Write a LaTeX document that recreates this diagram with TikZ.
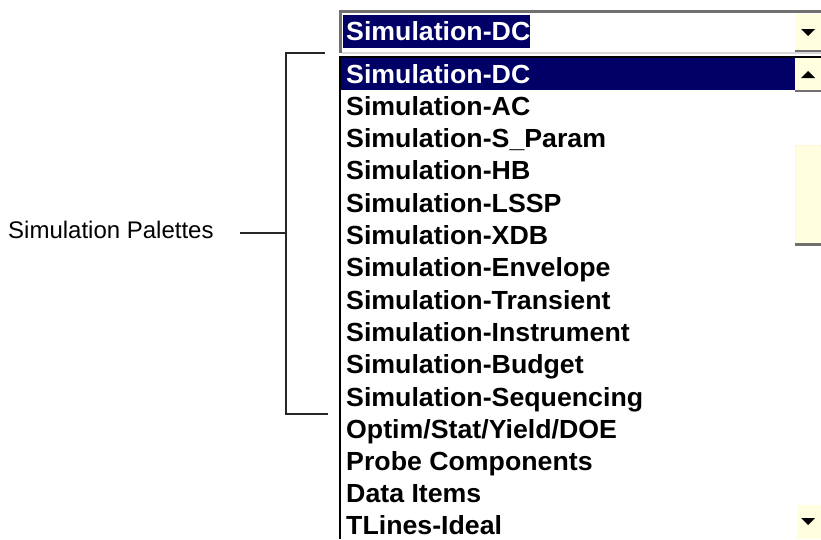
\documentclass[tikz,border=0pt]{standalone}
\usepackage{fontspec}
\setmainfont{Liberation Sans}
\newfontfamily\listfont[FakeStretch=1.02]{Liberation Sans}
\definecolor{selnavy}{RGB}{0,0,102}
\definecolor{btnyellow}{RGB}{255,255,224}
\definecolor{edgegray}{RGB}{112,112,112}
\begin{document}
\begin{tikzpicture}[x=1pt,y=-1pt]
	\tikzset{item/.style = {anchor=base west,inner sep=0pt,font=\listfont\fontsize{26.2}{27}\selectfont\bfseries}}
	\tikzset{selitem/.style = {item,text=white}}
	\tikzset{btn/.style = {fill=btnyellow,draw=none}}
	\tikzset{tri/.style = {fill=black,draw=none}}
	\tikzset{bracket/.style = {draw=black!85,line width=1.2pt}}
	\useasboundingbox[fill=white] (0,0) rectangle (821,539);
	% combo box
	\fill[edgegray] (339,10) rectangle (821,12.5);
	\fill[edgegray] (339,10) rectangle (341.5,53);
	\fill[black!15] (341.5,52) rectangle (821,53.5);
	\fill[selnavy] (343,15) rectangle (530,47.5);
	\node[selitem] (top) at (346,40) {Simulation-DC};
	\path[btn] (795,14) rectangle (821,50);
	\fill[edgegray] (795,49.5) rectangle (821,52);
	\path[tri] (801,29) -- (815,29) -- (808,36) -- cycle;
	% list box
	\fill[black] (338.5,56) rectangle (821,58);
	\fill[black] (338.5,56) rectangle (340.5,539);
	\fill[selnavy] (340.5,58) rectangle (795,90);
	\path[btn] (795,58) rectangle (821,90);
	\fill[edgegray] (795,90) rectangle (821,92);
	\path[tri] (801,78) -- (815,78) -- (808,71) -- cycle;
	\path[btn] (795,145) rectangle (821,245);
	\draw[btnyellow!60!orange!40,dotted] (795.5,145.5) -- (821,145.5);
	\draw[btnyellow!60!orange!40,dotted] (795.5,145.5) -- (795.5,244);
	\fill[edgegray] (795,243) rectangle (821,246);
	\path[btn] (797,505) rectangle (821,539);
	\path[tri] (801,518) -- (815,518) -- (808,525) -- cycle;
	% list entries
	\node[selitem] (dc) at (346,83) {Simulation-DC};
	\node[item] (ac) at (346,115.3) {Simulation-AC};
	\node[item] (sparam) at (346,147.6) {Simulation-S\_Param};
	\node[item] (hb) at (346,179.9) {Simulation-HB};
	\node[item] (lssp) at (346,212.2) {Simulation-LSSP};
	\node[item] (xdb) at (346,244.5) {Simulation-XDB};
	\node[item] (env) at (346,276.8) {Simulation-Envelope};
	\node[item] (tran) at (346,309.1) {Simulation-Transient};
	\node[item] (instr) at (346,341.4) {Simulation-Instrument};
	\node[item] (budget) at (346,373.7) {Simulation-Budget};
	\node[item] (seq) at (346,406) {Simulation-Sequencing};
	\node[item] (optim) at (346,438.3) {Optim/Stat/Yield/DOE};
	\node[item] (probe) at (346,470.6) {Probe Components};
	\node[item] (data) at (346,502.9) {Data Items};
	\node[item] (tlines) at (346,534.2) {TLines-Ideal};
	% bracket and label
	\node[anchor=west,inner sep=0pt,font=\fontsize{24}{24}\selectfont] (pal) at (8,230) {Simulation Palettes};
	\coordinate (brtop) at (325,53);
	\coordinate (brbot) at (328,414);
	\coordinate (brmid) at (286,233);
	\coordinate (stem) at (240,233);
	\path[bracket] (brtop) -| (brbot -| brmid) -- (brbot);
	\path[bracket] (stem) -- (brmid);
\end{tikzpicture}
\end{document}
